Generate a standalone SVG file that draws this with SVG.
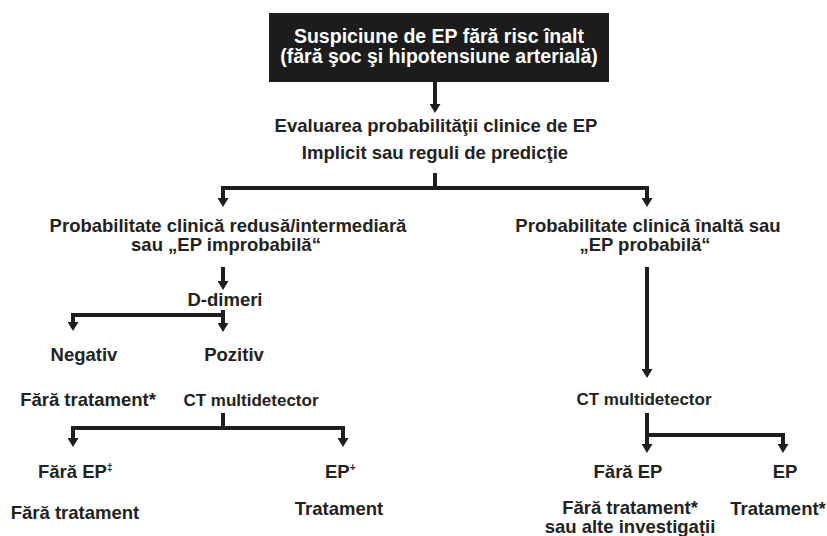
<svg xmlns="http://www.w3.org/2000/svg" width="827" height="536" viewBox="0 0 827 536">
<style>
text{font-family:"Liberation Sans",Arial,sans-serif;font-weight:bold;font-size:18.5px;fill:#222;text-anchor:middle}
.hd{fill:#fff;font-size:19.5px}
.ct{font-size:17px}
.st{text-anchor:start}
.sup{font-size:10px}
.ln{fill:none;stroke:#1e1e1e;stroke-width:4}
.ar{fill:none;stroke:#1e1e1e;stroke-width:4;marker-end:url(#ah)}
</style>
<defs>
<marker id="ah" markerUnits="userSpaceOnUse" markerWidth="9" markerHeight="11" refX="1" refY="5.5" orient="auto" viewBox="0 0 9 11">
<path d="M0,0 L9,5.5 L0,11 Z" fill="#1e1e1e"/>
</marker>
</defs>
<rect width="827" height="536" fill="#fff"/>
<g id="n-start">
<rect x="269" y="13" width="340" height="69" fill="#1c1c1c"/>
<text class="hd" x="439" y="43">Suspiciune de EP fără risc înalt</text>
<text class="hd" x="439" y="63">(fără şoc şi hipotensiune arterială)</text>
</g>
<g id="n-eval">
<text x="436" y="132">Evaluarea probabilităţii clinice de EP</text>
<text x="435" y="159">Implicit sau reguli de predicţie</text>
</g>
<g id="n-low">
<text x="228" y="232">Probabilitate clinică redusă/intermediară</text>
<text x="226" y="251">sau „EP improbabilă“</text>
</g>
<g id="n-high">
<text x="648" y="232">Probabilitate clinică înaltă sau</text>
<text x="645" y="251">„EP probabilă“</text>
</g>
<g id="n-ddimer"><text x="225" y="306">D-dimeri</text></g>
<g id="n-neg"><text x="84" y="361">Negativ</text></g>
<g id="n-poz"><text x="234" y="361">Pozitiv</text></g>
<g id="n-fara1"><text x="88" y="406">Fără tratament*</text></g>
<g id="n-ct1"><text class="ct" x="251" y="406">CT multidetector</text></g>
<g id="n-ct2"><text class="ct" x="644" y="405">CT multidetector</text></g>
<g id="n-faraep1"><text class="st" x="38" y="478">Fără EP<tspan class="sup" dy="-7">‡</tspan></text></g>
<g id="n-ep1"><text class="st" x="325" y="478">EP<tspan class="sup" dy="-7">+</tspan></text></g>
<g id="n-faraep2"><text x="628" y="478">Fără EP</text></g>
<g id="n-ep2"><text x="785" y="478">EP</text></g>
<g id="n-fara2"><text x="75" y="519">Fără tratament</text></g>
<g id="n-trat1"><text x="339" y="515">Tratament</text></g>
<g id="n-fara3">
<text x="630" y="514">Fără tratament*</text>
<text x="630" y="533">sau alte investigații</text>
</g>
<g id="n-trat2"><text x="778" y="515">Tratament*</text></g>
<g id="connectors">
<path class="ar" d="M435 82 V105"/>
<path class="ln" d="M435 173 V188"/>
<path class="ln" d="M221 188 H649"/>
<path class="ar" d="M223 188 V199"/>
<path class="ar" d="M647 188 V199"/>
<path class="ar" d="M223 267 V282"/>
<path class="ar" d="M223 310 V324"/>
<path class="ln" d="M71 315 H223"/>
<path class="ar" d="M73 315 V323"/>
<path class="ar" d="M647 267 V370"/>
<path class="ln" d="M223 413 V428"/>
<path class="ln" d="M71 428 H345"/>
<path class="ar" d="M73 428 V439"/>
<path class="ar" d="M343 428 V439"/>
<path class="ar" d="M647 413 V445"/>
<path class="ln" d="M647 435 H785"/>
<path class="ar" d="M783 435 V445"/>
</g>
</svg>
